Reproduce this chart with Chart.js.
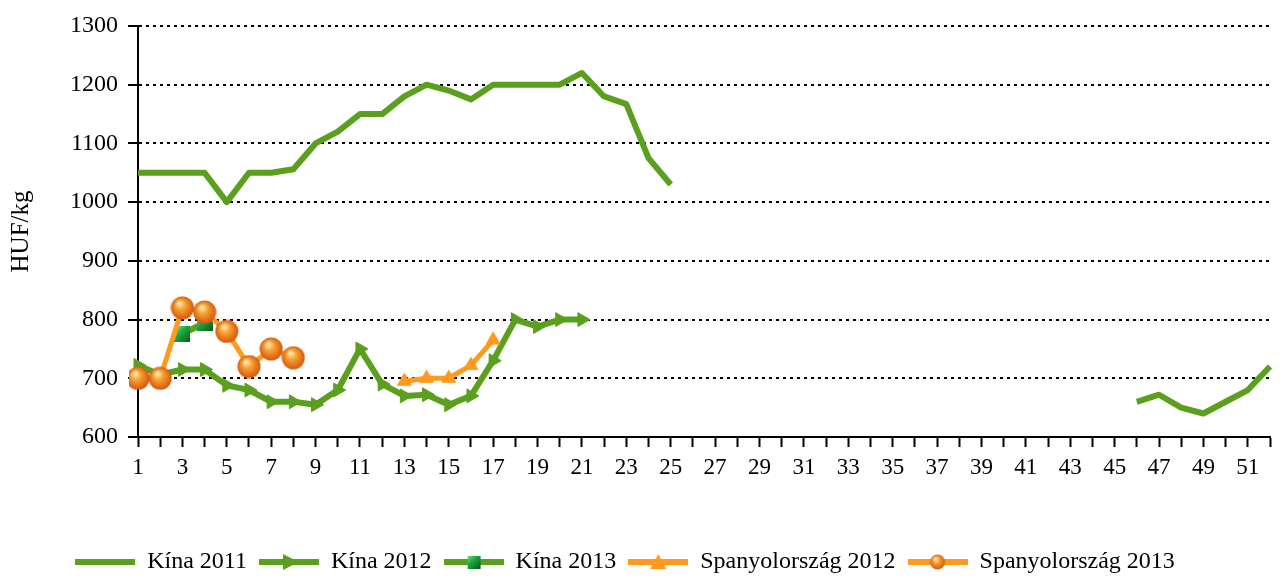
<!DOCTYPE html>
<html>
<head>
<meta charset="utf-8">
<script src="https://cdn.jsdelivr.net/npm/chart.js@4"></script>
<style>
  html, body { margin: 0; padding: 0; background: #fff; }
</style>
</head>
<body>
<canvas id="myChart" width="1283" height="579"></canvas>
<script>
// weeks 1..52
const weeks = [1,2,3,4,5,6,7,8,9,10,11,12,13,14,15,16,17,18,19,20,21,22,23,24,25,26,
               27,28,29,30,31,32,33,34,35,36,37,38,39,40,41,42,43,44,45,46,47,48,49,50,51,52];

const kina2011 = [1050,1050,1050,1050,1000,1050,1050,1056,1100,1120,1150,1150,1180,1200,1190,1175,
                  1200,1200,1200,1200,1220,1180,1167,1075,1030,
                  null,null,null,null,null,null,null,null,null,null,
                  null,null,null,null,null,null,null,null,null,null,
                  660,672,650,640,660,680,720];
const kina2012 = [722,706,715,715,688,680,660,660,655,680,750,690,670,672,655,670,730,800,788,800,800];
const kina2013 = [null,null,775,795];
const spain2012 = [null,null,null,null,null,null,null,null,null,null,null,null,695,700,700,722,765];
const spain2013 = [700,700,820,813,780,720,750,735];

const seriesNames = ['Kína 2011', 'Kína 2012', 'Kína 2013', 'Spanyolország 2012', 'Spanyolország 2013'];
const yTicks = [600, 700, 800, 900, 1000, 1100, 1200, 1300];

const green = '#5aa01e';
const orange = '#ff9a1e';
const serif = 'Liberation Serif';

// shaded ball marker
function sphere(r) {
    const c = document.createElement('canvas');
    c.width = c.height = r * 2;
    const g = c.getContext('2d');
    const grad = g.createRadialGradient(r * 0.75, r * 0.6, r * 0.1, r, r, r);
    grad.addColorStop(0, '#ffe4a8');
    grad.addColorStop(0.35, '#f8a232');
    grad.addColorStop(1, '#d4520e');
    g.fillStyle = grad;
    g.beginPath();
    g.arc(r, r, r - 0.5, 0, Math.PI * 2);
    g.fill();
    return c;
}

// shaded green square marker
function cube(s) {
    const c = document.createElement('canvas');
    c.width = c.height = s;
    const g = c.getContext('2d');
    const grad = g.createLinearGradient(0, 0, s, s);
    grad.addColorStop(0, '#7ee896');
    grad.addColorStop(0.4, '#22a844');
    grad.addColorStop(1, '#075a1a');
    g.fillStyle = grad;
    g.fillRect(0, 0, s, s);
    return c;
}

// legend sample: a line with the marker in the middle
function legendIcon(color, lw, marker) {
    const w = 60, h = 22;
    const c = document.createElement('canvas');
    c.width = w; c.height = h;
    const g = c.getContext('2d');
    g.strokeStyle = color;
    g.lineWidth = lw;
    g.beginPath();
    g.moveTo(0, h / 2);
    g.lineTo(w, h / 2);
    g.stroke();
    if (marker) marker(g, w / 2, h / 2);
    return c;
}

const ball = sphere(12);
const smallBall = sphere(8);
const box = cube(16);
const smallBox = cube(13);

const legendIcons = [
    legendIcon(green, 6),
    legendIcon(green, 6, (g, x, y) => {
        g.fillStyle = green;
        g.beginPath();
        g.moveTo(x - 6, y - 8); g.lineTo(x + 10, y); g.lineTo(x - 6, y + 8);
        g.closePath(); g.fill();
    }),
    legendIcon(green, 6, (g, x, y) => g.drawImage(smallBox, x - 6.5, y - 6.5)),
    legendIcon(orange, 6, (g, x, y) => {
        g.fillStyle = orange;
        g.beginPath();
        g.moveTo(x, y - 8); g.lineTo(x + 8, y + 7); g.lineTo(x - 8, y + 7);
        g.closePath(); g.fill();
    }),
    legendIcon(orange, 6, (g, x, y) => g.drawImage(smallBall, x - 8, y - 8))
];

// move the legend a bit, as in the original layout
const legendShift = {
    id: 'legendShift',
    afterLayout(chart) {
        const lg = chart.legend;
        lg.left -= 10; lg.right -= 10;
        lg.top += 5; lg.bottom += 5;
    }
};

const data = {
    labels: weeks,
    datasets: [{
        label: seriesNames[0],
        data: kina2011,
        borderColor: green,
        backgroundColor: green,
        borderWidth: 6,
        pointRadius: 0,
        order: 5
    }, {
        label: seriesNames[1],
        data: kina2012,
        borderColor: green,
        backgroundColor: green,
        borderWidth: 6,
        pointStyle: 'triangle',
        rotation: 90,
        pointRadius: 8,
        pointBorderWidth: 1,
        order: 4
    }, {
        label: seriesNames[2],
        data: kina2013,
        borderColor: green,
        backgroundColor: green,
        borderWidth: 6,
        pointStyle: box,
        order: 2
    }, {
        label: seriesNames[3],
        data: spain2012,
        borderColor: orange,
        backgroundColor: orange,
        borderWidth: 5,
        pointStyle: 'triangle',
        pointRadius: 8,
        pointBorderWidth: 1,
        order: 3
    }, {
        label: seriesNames[4],
        data: spain2013,
        borderColor: orange,
        backgroundColor: orange,
        borderWidth: 5,
        pointStyle: ball,
        order: 1
    }]
};

const config = {
    type: 'line',
    data: data,
    plugins: [legendShift],
    options: {
        responsive: false,
        animation: false,
        spanGaps: false,
        layout: {
            padding: { left: 0, right: 13, top: 26, bottom: 0 }
        },
        elements: {
            line: { tension: 0, borderJoinStyle: 'round' }
        },
        scales: {
            x: {
                type: 'category',
                offset: false,
                afterFit: (s) => { s.height = 96; },
                grid: {
                    drawOnChartArea: false,
                    drawTicks: true,
                    tickLength: 10,
                    tickColor: '#000',
                    tickWidth: 2
                },
                border: { color: '#000', width: 2 },
                ticks: {
                    autoSkip: false,
                    maxRotation: 0,
                    padding: 7,
                    color: '#000',
                    font: { family: serif, size: 23 },
                    callback: (v, i) => (i % 2 === 0 ? weeks[i] : '')
                }
            },
            y: {
                min: yTicks[0],
                max: yTicks[yTicks.length - 1],
                afterFit: (s) => { s.width = 138; },
                afterBuildTicks: (s) => { s.ticks = yTicks.map(v => ({ value: v })); },
                grid: {
                    color: '#000',
                    lineWidth: 2,
                    tickLength: 10,
                    tickColor: '#000',
                    tickWidth: 2
                },
                border: { color: '#000', width: 2, dash: [3, 4] },
                ticks: {
                    padding: 10,
                    color: '#000',
                    font: { family: serif, size: 24 },
                    callback: (v) => String(v)
                },
                title: {
                    display: true,
                    text: 'HUF/kg',
                    color: '#000',
                    padding: { top: 6, bottom: 0 },
                    font: { family: serif, size: 25 }
                }
            }
        },
        plugins: {
            tooltip: { enabled: false },
            legend: {
                position: 'bottom',
                labels: {
                    usePointStyle: true,
                    pointStyleWidth: 60,
                    padding: 12,
                    color: '#000',
                    font: { family: serif, size: 24 },
                    generateLabels: (chart) => chart.data.datasets.map((ds, i) => ({
                        text: ds.label,
                        pointStyle: legendIcons[i],
                        datasetIndex: i,
                        fillStyle: 'rgba(0,0,0,0)',
                        strokeStyle: 'rgba(0,0,0,0)',
                        lineWidth: 0,
                        hidden: false,
                        fontColor: '#000'
                    }))
                }
            }
        }
    }
};

var myChart = new Chart(document.getElementById('myChart'), config);
</script>
</body>
</html>
